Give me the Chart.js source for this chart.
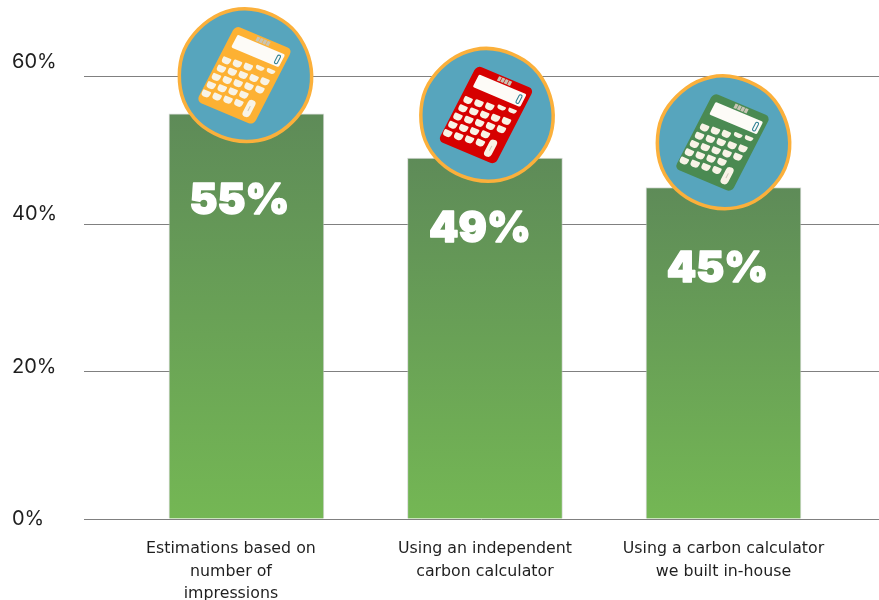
<!DOCTYPE html>
<html>
<head>
<meta charset="utf-8">
<title>Carbon estimation methods</title>
<script src="https://cdn.jsdelivr.net/npm/chart.js@4/dist/chart.umd.min.js"></script>
<style>
  html, body { margin: 0; padding: 0; background: #fff; }
  canvas { display: block; }
</style>
</head>
<body>
<canvas id="methods" width="879" height="600"></canvas>
<script>
var categories = [
    ['Estimations based on', 'number of', 'impressions'],
    ['Using an independent', 'carbon calculator'],
    ['Using a carbon calculator', 'we built in-house']
];
var barPositions = [0, 1, 2];
var labelPositions = [-0.065, 1, 2];
var percentages = [55, 49, 45];
var percentTicks = [0, 20, 40, 60];
var calculatorColors = ['#fdb133', '#d60000', '#4a8a52'];

// badge and big label offsets from the top of each bar, in px
var badgeOffsets = [[-1, -38.5], [2, -43], [0, -45]];
var labelOffsets = [[-7, 88], [-5, 71], [-6, 82]];
var ringWobble = [0, 0.7, -0.3, 0.5, 0, -0.5, 0.4, 0.8, -0.3, 0.4, -0.7, 0.2, 0.6, -0.4, 0.2, -0.5];

function barGradient(context) {
    var chart = context.chart;
    if (!chart.chartArea) return '#74b654';
    var y = chart.scales.y;
    var g = chart.ctx.createLinearGradient(0, y.getPixelForValue(percentages[context.dataIndex]), 0, y.getPixelForValue(0));
    g.addColorStop(0, '#5e8b58');
    g.addColorStop(1, '#74b754');
    return g;
}

function drawRing(ctx, cx, cy, r) {
    var n = ringWobble.length;
    var pts = ringWobble.map(function (w, i) {
        var a = i / n * Math.PI * 2;
        return [cx + Math.cos(a) * (r + w), cy + Math.sin(a) * (r + w)];
    });
    ctx.beginPath();
    for (var i = 0; i < n; i++) {
        var p = pts[i], q = pts[(i + 1) % n];
        var mx = (p[0] + q[0]) / 2, my = (p[1] + q[1]) / 2;
        if (i === 0) ctx.moveTo(mx, my);
        else ctx.quadraticCurveTo(p[0], p[1], mx, my);
    }
    var first = pts[0], second = pts[1];
    ctx.quadraticCurveTo(first[0], first[1], (first[0] + second[0]) / 2, (first[1] + second[1]) / 2);
    ctx.closePath();
    ctx.fillStyle = '#57a5bd';
    ctx.fill();
    ctx.lineWidth = 3.5;
    ctx.strokeStyle = '#fbb03b';
    ctx.stroke();
}

function drawCalculator(ctx, cx, cy, color) {
    ctx.save();
    // slightly sheared, tilted body; local units are 60 wide by 78 tall
    ctx.transform(0.95, 0.40, -0.50, 0.97, cx, cy);
    ctx.translate(-30, -39);

    ctx.fillStyle = color;
    ctx.beginPath();
    ctx.roundRect(0, 0, 60, 78, 5);
    ctx.fill();

    ctx.fillStyle = '#fdfbf7';
    ctx.beginPath();
    ctx.roundRect(6, 7, 50, 13, 1.5);
    ctx.fill();

    ctx.fillStyle = '#c9c4b4';
    for (var s = 0; s < 4; s++) ctx.fillRect(24 + s * 3.6, 1.4, 3, 4.4);

    ctx.strokeStyle = '#2f7f93';
    ctx.lineWidth = 1;
    ctx.beginPath();
    ctx.roundRect(50, 9.5, 3, 8.5, 1.4);
    ctx.stroke();

    ctx.fillStyle = '#f8f3e6';
    for (var row = 0; row < 5; row++) {
        for (var col = 0; col < 5; col++) {
            if (col === 4 && row > 2) continue;
            var wide = row === 0 && col > 2;
            var u = 3.5 + col * 10.8 - row * 0.7;
            var v = 30 - col * 1.2 + row * 8.8 + (wide ? -1 : 0);
            ctx.beginPath();
            ctx.roundRect(u, v, 8.4, wide ? 4 : 6.2, [1, 1, 3.4, 3.4]);
            ctx.fill();
        }
    }
    ctx.beginPath();
    ctx.roundRect(45, 57, 7.6, 17, 3.6);
    ctx.fill();
    ctx.fillStyle = '#c9c4b4';
    ctx.fillRect(48.4, 63, 0.9, 5);
    ctx.restore();
}

var badgePlugin = {
    id: 'badges',
    afterDatasetsDraw: function (chart) {
        var ctx = chart.ctx, x = chart.scales.x, y = chart.scales.y;
        percentages.forEach(function (v, i) {
            var cx = x.getPixelForValue(barPositions[i]) + badgeOffsets[i][0];
            var top = y.getPixelForValue(v);
            var cy = top + badgeOffsets[i][1];
            drawRing(ctx, cx, cy, 67.5);
            drawCalculator(ctx, cx - 1, cy, calculatorColors[i]);

            ctx.save();
            ctx.fillStyle = '#ffffff';
            ctx.strokeStyle = '#ffffff';
            ctx.lineWidth = 1.4;
            ctx.lineJoin = 'round';
            ctx.font = '900 42px Inter';
            ctx.textAlign = 'center';
            ctx.textBaseline = 'middle';
            var lx = x.getPixelForValue(barPositions[i]) + labelOffsets[i][0];
            ctx.fillText(v + '%', lx, top + labelOffsets[i][1]);
            ctx.strokeText(v + '%', lx, top + labelOffsets[i][1]);
            ctx.restore();
        });
    }
};

var ctx = document.getElementById('methods').getContext('2d');
var methodChart = new Chart(ctx, {
    type: 'bar',
    data: {
        datasets: [{
            data: percentages.map(function (v, i) { return { x: barPositions[i], y: v }; }),
            backgroundColor: barGradient,
            borderColor: 'rgba(190, 195, 190, 0.6)',
            borderWidth: { top: 1, left: 1, right: 1, bottom: 0 },
            barThickness: 155
        }]
    },
    options: {
        responsive: false,
        animation: false,
        layout: { padding: { left: 12, right: 0, top: 0, bottom: 0 } },
        plugins: { legend: { display: false }, tooltip: { enabled: false } },
        scales: {
            x: {
                type: 'linear',
                offset: false,
                min: -0.681,
                max: 2.652,
                grid: { display: false },
                border: { display: false },
                afterBuildTicks: function (axis) {
                    axis.ticks = labelPositions.map(function (p) { return { value: p }; });
                },
                afterFit: function (axis) {
                    axis.height = 81;
                    axis.paddingLeft = 0;
                    axis.paddingRight = 0;
                },
                ticks: {
                    autoSkip: false,
                    maxRotation: 0,
                    padding: 11,
                    color: '#1f1f1f',
                    font: { family: 'DejaVu Sans', size: 15.8, lineHeight: 1.42 },
                    callback: function (value, index) { return categories[index]; }
                }
            },
            // gridlines live on this axis, its own labels stay hidden
            y: {
                min: 0,
                max: 70.45,
                position: 'left',
                weight: 1,
                grid: { color: '#808080', lineWidth: 1, drawTicks: false },
                border: { display: false },
                afterBuildTicks: function (axis) {
                    axis.ticks = percentTicks.map(function (v) { return { value: v }; });
                },
                afterFit: function (axis) {
                    axis.width = 0;
                    axis.paddingTop = 0;
                    axis.paddingBottom = 0;
                },
                ticks: { display: false }
            },
            // the percent labels sit on a slightly tighter axis than the gridlines
            yLabels: {
                min: 0,
                max: 68.1,
                position: 'left',
                weight: 2,
                grid: { display: false },
                border: { display: false },
                afterBuildTicks: function (axis) {
                    axis.ticks = percentTicks.map(function (v) { return { value: v }; });
                },
                afterFit: function (axis) {
                    axis.width = 72;
                    axis.paddingTop = 0;
                    axis.paddingBottom = 0;
                },
                ticks: {
                    crossAlign: 'far',
                    padding: 0,
                    color: '#1f1f1f',
                    font: { family: 'Inter', size: 20 },
                    callback: function (value) { return value + '%'; }
                }
            }
        }
    },
    plugins: [badgePlugin]
});
</script>
</body>
</html>
